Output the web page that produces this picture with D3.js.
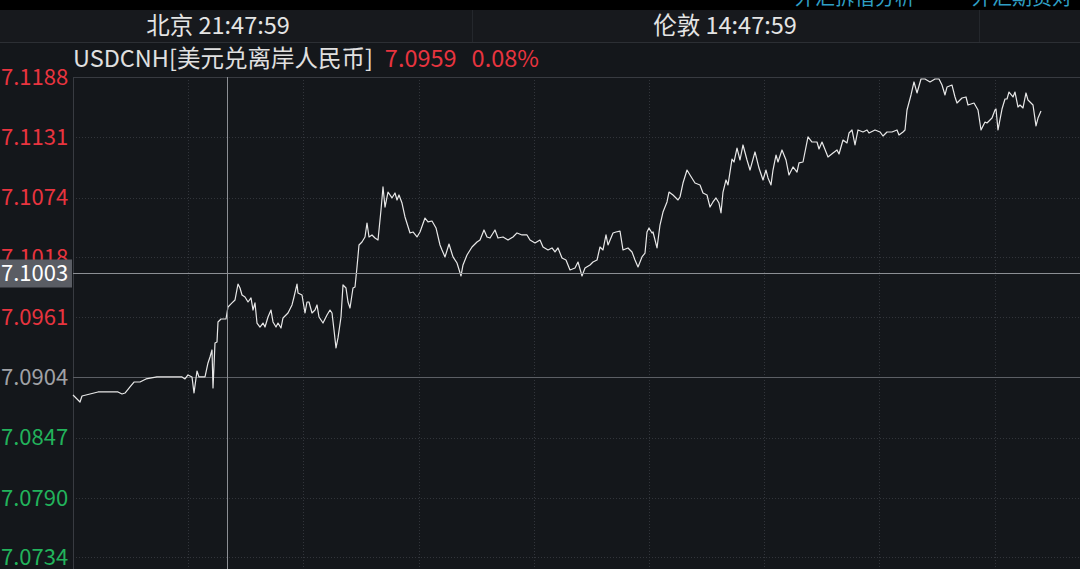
<!DOCTYPE html>
<html lang="zh">
<head>
<meta charset="utf-8">
<script src="https://d3js.org/d3.v7.min.js"></script>
<style>
  html, body { margin: 0; padding: 0; background: #14171b; overflow: hidden; }
  svg { display: block; }
  text { font-family: "Noto Sans CJK SC", "Open Sans", sans-serif; }
</style>
</head>
<body>
<svg width="1080" height="569"></svg>
<script>
// sample position along the session (chart units) and the price read at it
var sampleIdx = [0,7,9,25,45,49,52,57,61,67,73,84,109,112,115,119,121,124,126,132,135,137,139,140,142,144,145,148,153,155,159,162,165,167,169,172,175,178,180,182,184,187,190,192,195,198,200,203,205,208,210,215,219,221,224,225,229,232,234,236,239,242,244,246,250,254,257,259,261,263,265,268,270,273,275,277,280,282,284,286,289,292,294,296,299,302,305,308,310,312,315,319,322,324,326,329,332,337,340,344,347,352,355,359,363,367,369,372,376,380,384,388,390,394,399,404,407,411,414,417,422,425,430,435,440,444,449,454,457,462,467,470,475,479,482,485,489,493,497,502,505,509,512,517,520,524,527,530,533,535,540,543,547,550,555,559,562,565,569,572,574,576,579,580,584,587,590,594,596,600,605,607,610,614,617,622,627,630,634,637,640,643,646,648,650,653,655,659,661,664,667,670,674,677,682,686,690,693,695,698,700,703,705,709,713,716,720,724,726,730,735,739,744,746,749,755,760,764,766,770,774,776,779,782,785,790,794,796,802,807,810,814,819,824,826,830,832,834,838,841,844,848,852,857,862,866,869,872,874,879,882,884,889,893,895,901,905,908,912,914,919,922,923,925,929,932,934,936,940,942,945,947,950,953,955,960,963,965,968];
var prices = [7.08872,7.08806,7.08863,7.08901,7.08901,7.08882,7.08891,7.08948,7.08995,7.08995,7.09024,7.09043,7.09043,7.09024,7.09062,7.09043,7.08891,7.09099,7.09043,7.09043,7.09175,7.09232,7.09298,7.08939,7.09364,7.09374,7.09563,7.09591,7.09591,7.09705,7.09743,7.09771,7.09922,7.09884,7.09818,7.09799,7.09752,7.09790,7.09676,7.09743,7.09553,7.09515,7.09553,7.09515,7.09610,7.09676,7.09563,7.09515,7.09553,7.09506,7.09601,7.09648,7.09724,7.09799,7.09922,7.09837,7.09818,7.09648,7.09752,7.09752,7.09648,7.09676,7.09724,7.09610,7.09553,7.09629,7.09676,7.09648,7.09487,7.09317,7.09412,7.09610,7.09913,7.09884,7.09752,7.09695,7.09884,7.09894,7.10083,7.10291,7.10319,7.10367,7.10499,7.10367,7.10386,7.10357,7.10338,7.10622,7.10840,7.10650,7.10792,7.10736,7.10783,7.10717,7.10764,7.10688,7.10556,7.10405,7.10414,7.10367,7.10414,7.10546,7.10509,7.10518,7.10452,7.10291,7.10244,7.10178,7.10300,7.10178,7.10121,7.09998,7.10102,7.10196,7.10272,7.10319,7.10338,7.10433,7.10367,7.10357,7.10433,7.10357,7.10367,7.10338,7.10367,7.10405,7.10386,7.10386,7.10338,7.10310,7.10338,7.10272,7.10244,7.10263,7.10225,7.10263,7.10168,7.10149,7.10055,7.10073,7.10130,7.09998,7.10073,7.10102,7.10130,7.10149,7.10272,7.10244,7.10386,7.10291,7.10405,7.10414,7.10423,7.10244,7.10263,7.10225,7.10149,7.10083,7.10178,7.10215,7.10414,7.10452,7.10405,7.10414,7.10263,7.10480,7.10603,7.10698,7.10792,7.10764,7.10717,7.10745,7.10877,7.11000,7.10953,7.10877,7.10859,7.10783,7.10764,7.10650,7.10698,7.10736,7.10688,7.10594,7.10792,7.10906,7.10859,7.11104,7.11076,7.11208,7.11095,7.11237,7.11095,7.11000,7.11171,7.11019,7.10906,7.11000,7.10925,7.10859,7.11000,7.11142,7.11076,7.11190,7.11095,7.10953,7.11029,7.10981,7.11067,7.11076,7.11313,7.11265,7.11265,7.11199,7.11265,7.11123,7.11161,7.11190,7.11152,7.11284,7.11256,7.11350,7.11379,7.11237,7.11379,7.11360,7.11379,7.11350,7.11379,7.11360,7.11322,7.11360,7.11360,7.11379,7.11331,7.11360,7.11379,7.11568,7.11710,7.11833,7.11729,7.11861,7.11861,7.11833,7.11861,7.11861,7.11804,7.11710,7.11785,7.11804,7.11691,7.11634,7.11681,7.11691,7.11615,7.11634,7.11568,7.11379,7.11454,7.11445,7.11492,7.11568,7.11577,7.11379,7.11577,7.11672,7.11672,7.11738,7.11691,7.11738,7.11596,7.11615,7.11587,7.11729,7.11662,7.11615,7.11417,7.11492,7.11558,7.11558];

var yTicks = ["7.1188","7.1131","7.1074","7.1018","7.0961","7.0904","7.0847","7.0790","7.0734"];
var preClose = 7.0904;
var crossT = 154, crossPrice = 7.1003;
var gridStep = 115.2;

var svg = d3.select("svg");
var W = 1080, H = 569;
var plotLeft = 73, plotTop = 77, plotBottom = 557;

var x = d3.scaleLinear().domain([0, W - plotLeft]).range([plotLeft, W]);
var y = d3.scaleLinear().domain([+yTicks[yTicks.length - 1], +yTicks[0]]).range([plotBottom, plotTop]);

// top strip + header bar
svg.append("rect").attr("width", W).attr("height", H).attr("fill", "#14171b");
svg.append("rect").attr("width", W).attr("height", 10).attr("fill", "#000");
svg.append("rect").attr("y", 10).attr("width", W).attr("height", 32).attr("fill", "#17191d");
svg.append("line").attr("x1", 0).attr("x2", W).attr("y1", 42.5).attr("y2", 42.5).attr("stroke", "#2c2f34");
[472, 979].forEach(function(d) {
  svg.append("line").attr("x1", d + .5).attr("x2", d + .5).attr("y1", 10).attr("y2", 42).attr("stroke", "#24272c");
});
// menu text, mostly hidden above the window edge
svg.append("text").attr("x", 795).attr("y", 5).attr("font-size", 20).attr("fill", "#2f9fc4").text("外汇拆借分析");
svg.append("text").attr("x", 972).attr("y", 5).attr("font-size", 20).attr("fill", "#2f9fc4").text("外汇期货对");

svg.append("text").attr("x", 218).attr("y", 34).attr("text-anchor", "middle")
  .attr("font-size", 23.5).attr("fill", "#e4e4e4").text("北京 21:47:59");
svg.append("text").attr("x", 725).attr("y", 34).attr("text-anchor", "middle")
  .attr("font-size", 23.5).attr("fill", "#e4e4e4").text("伦敦 14:47:59");

// title
var title = svg.append("text").attr("x", 73).attr("y", 67).attr("font-size", 23.5);
title.append("tspan").attr("fill", "#e0e0e0").text("USDCNH[美元兑离岸人民币]");
title.append("tspan").attr("fill", "#e8343f").attr("dx", 12).text("7.0959");
title.append("tspan").attr("fill", "#e8343f").attr("dx", 15).text("0.08%");

// grid
var grid = svg.append("g");
yTicks.forEach(function(t, i) {
  if (i === 0 || +t === preClose) return;
  grid.append("line").attr("x1", plotLeft).attr("x2", W)
    .attr("y1", Math.round(y(+t)) + .5).attr("y2", Math.round(y(+t)) + .5)
    .attr("stroke", "#32353b").attr("stroke-dasharray", "1,2");
});
d3.range(1, 9).forEach(function(k) {
  var gx = Math.round(x(k * gridStep)) + .5;
  grid.append("line").attr("x1", gx).attr("x2", gx).attr("y1", plotTop).attr("y2", H)
    .attr("stroke", "#32353b").attr("stroke-dasharray", "1,2");
});
svg.append("line").attr("x1", plotLeft).attr("x2", W).attr("y1", plotTop + .5).attr("y2", plotTop + .5).attr("stroke", "#383b41");
svg.append("line").attr("x1", plotLeft + .5).attr("x2", plotLeft + .5).attr("y1", plotTop).attr("y2", H).attr("stroke", "#383b41");

// previous close line
svg.append("line").attr("x1", plotLeft).attr("x2", W)
  .attr("y1", Math.round(y(preClose)) + .5).attr("y2", Math.round(y(preClose)) + .5)
  .attr("stroke", "#5c5f65").attr("stroke-width", 1.2);

// y axis labels
svg.append("g").selectAll("text").data(yTicks).enter().append("text")
  .attr("x", 1).attr("y", function(d) { return y(+d); })
  .attr("dy", "0.36em").attr("font-size", 22).attr("font-family", "'Open Sans', sans-serif")
  .attr("fill", function(d) { return +d > preClose ? "#e8343f" : (+d < preClose ? "#22b35b" : "#a0a2a6"); })
  .text(function(d) { return d; });

// price line
var line = d3.line().x(function(d, i) { return x(sampleIdx[i]); }).y(function(d) { return y(d); });
svg.append("path").datum(prices).attr("d", line)
  .attr("fill", "none").attr("stroke", "#e8e8e8").attr("stroke-width", 1.2).attr("stroke-linejoin", "round");

// crosshair
var cx = Math.round(x(crossT)) + .5, cy = Math.round(y(crossPrice)) + .5;
svg.append("line").attr("x1", cx).attr("x2", cx).attr("y1", plotTop).attr("y2", H).attr("stroke", "#8c8f94");
svg.append("line").attr("x1", plotLeft).attr("x2", W).attr("y1", cy).attr("y2", cy).attr("stroke", "#8c8f94");
svg.append("rect").attr("x", 0).attr("y", cy - 14).attr("width", 72).attr("height", 28).attr("fill", "#5a5d64");
svg.append("text").attr("x", 1).attr("y", cy).attr("dy", "0.36em").attr("font-size", 22)
  .attr("font-family", "'Open Sans', sans-serif").attr("fill", "#ffffff").text(crossPrice.toFixed(4));
</script>
</body>
</html>
